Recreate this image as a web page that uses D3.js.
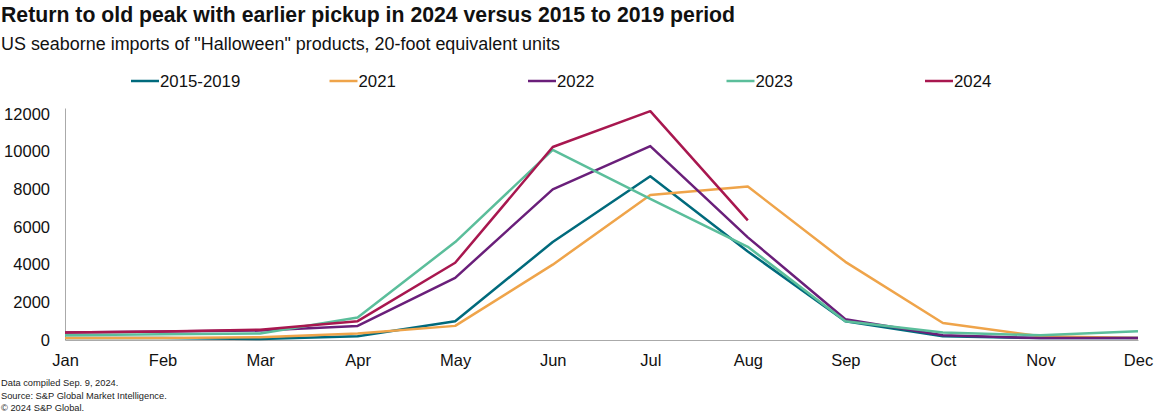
<!DOCTYPE html>
<html>
<head>
<meta charset="utf-8">
<script src="https://d3js.org/d3.v7.min.js"></script>
<style>
  body { margin:0; background:#fff; font-family:"Liberation Sans", Arial, sans-serif; }
</style>
</head>
<body>
<script>
// chart data
var months = ["Jan","Feb","Mar","Apr","May","Jun","Jul","Aug","Sep","Oct","Nov","Dec"];
var names = ["2015-2019","2021","2022","2023","2024"];
var colors = ["#006A7C","#EFA44A","#6A1F7A","#5BBE9B","#A8174F"];
var yTicks = [0,2000,4000,6000,8000,10000,12000];

var s2015_2019 = [100,100,50,200,1000,5200,8700,4700,1000,200,100,100];
var s2021 = [100,100,150,350,750,4000,7700,8150,4150,900,200,100];
var s2022 = [400,450,500,750,3300,8000,10300,5450,1100,250,100,100];
var s2023 = [250,300,350,1200,5200,10100,7500,4950,1000,400,250,470];
var s2024 = [400,450,550,1000,4100,10250,12150,6350];
var series = [s2015_2019, s2021, s2022, s2023, s2024];

var W = 1162, H = 416;
var svg = d3.select("body").append("svg").attr("width", W).attr("height", H);

svg.append("text").attr("x", 1).attr("y", 22)
  .attr("font-size", 21.2).attr("font-weight", "bold").attr("fill", "#111")
  .attr("textLength", 734).attr("lengthAdjust", "spacingAndGlyphs")
  .text("Return to old peak with earlier pickup in 2024 versus 2015 to 2019 period");
svg.append("text").attr("x", 1).attr("y", 50)
  .attr("font-size", 17.5).attr("fill", "#111")
  .attr("textLength", 559).attr("lengthAdjust", "spacingAndGlyphs")
  .text('US seaborne imports of "Halloween" products, 20-foot equivalent units');

// legend
var leg = svg.append("g");
names.forEach(function(n, i) {
  var lx = 131 + i * 198.5;
  leg.append("line").attr("x1", lx).attr("x2", lx + 28).attr("y1", 81).attr("y2", 81)
    .attr("stroke", colors[i]).attr("stroke-width", 2.5);
  leg.append("text").attr("x", lx + 29).attr("y", 87).attr("font-size", 16.8).attr("fill", "#111").text(n);
});

var x = d3.scalePoint().domain(months).range([65, 1138]);
var y = d3.scaleLinear().domain([0, 12320]).range([340, 108]);

// axes
var yAxis = svg.append("g").attr("transform", "translate(65,0)")
  .call(d3.axisLeft(y).tickValues(yTicks).tickSize(0).tickPadding(15).tickFormat(d3.format("d")));
yAxis.select(".domain").attr("stroke", "#aaa");
yAxis.selectAll("text").attr("font-size", 16.5).attr("fill", "#111")
  .attr("font-family", "Liberation Sans, Arial, sans-serif");

var xAxis = svg.append("g").attr("transform", "translate(0,340)")
  .call(d3.axisBottom(x).tickSize(0).tickPadding(14));
xAxis.select(".domain").attr("stroke", "#aaa");
xAxis.selectAll("text").attr("font-size", 16.5).attr("fill", "#111")
  .attr("font-family", "Liberation Sans, Arial, sans-serif");

var line = d3.line().x(function(d, i) { return x(months[i]); }).y(function(d) { return y(d); });

series.forEach(function(s, i) {
  svg.append("path").datum(s).attr("d", line)
    .attr("fill", "none").attr("stroke", colors[i]).attr("stroke-width", 2.5)
    .attr("stroke-linejoin", "round");
});

// footnotes
var notes = ["Data compiled Sep. 9, 2024.", "Source: S&P Global Market Intelligence.", "\u00a9 2024 S&P Global."];
notes.forEach(function(t, i) {
  svg.append("text").attr("x", 1).attr("y", 386 + i * 12.5).attr("font-size", 9.3).attr("fill", "#222").text(t);
});
</script>
</body>
</html>
